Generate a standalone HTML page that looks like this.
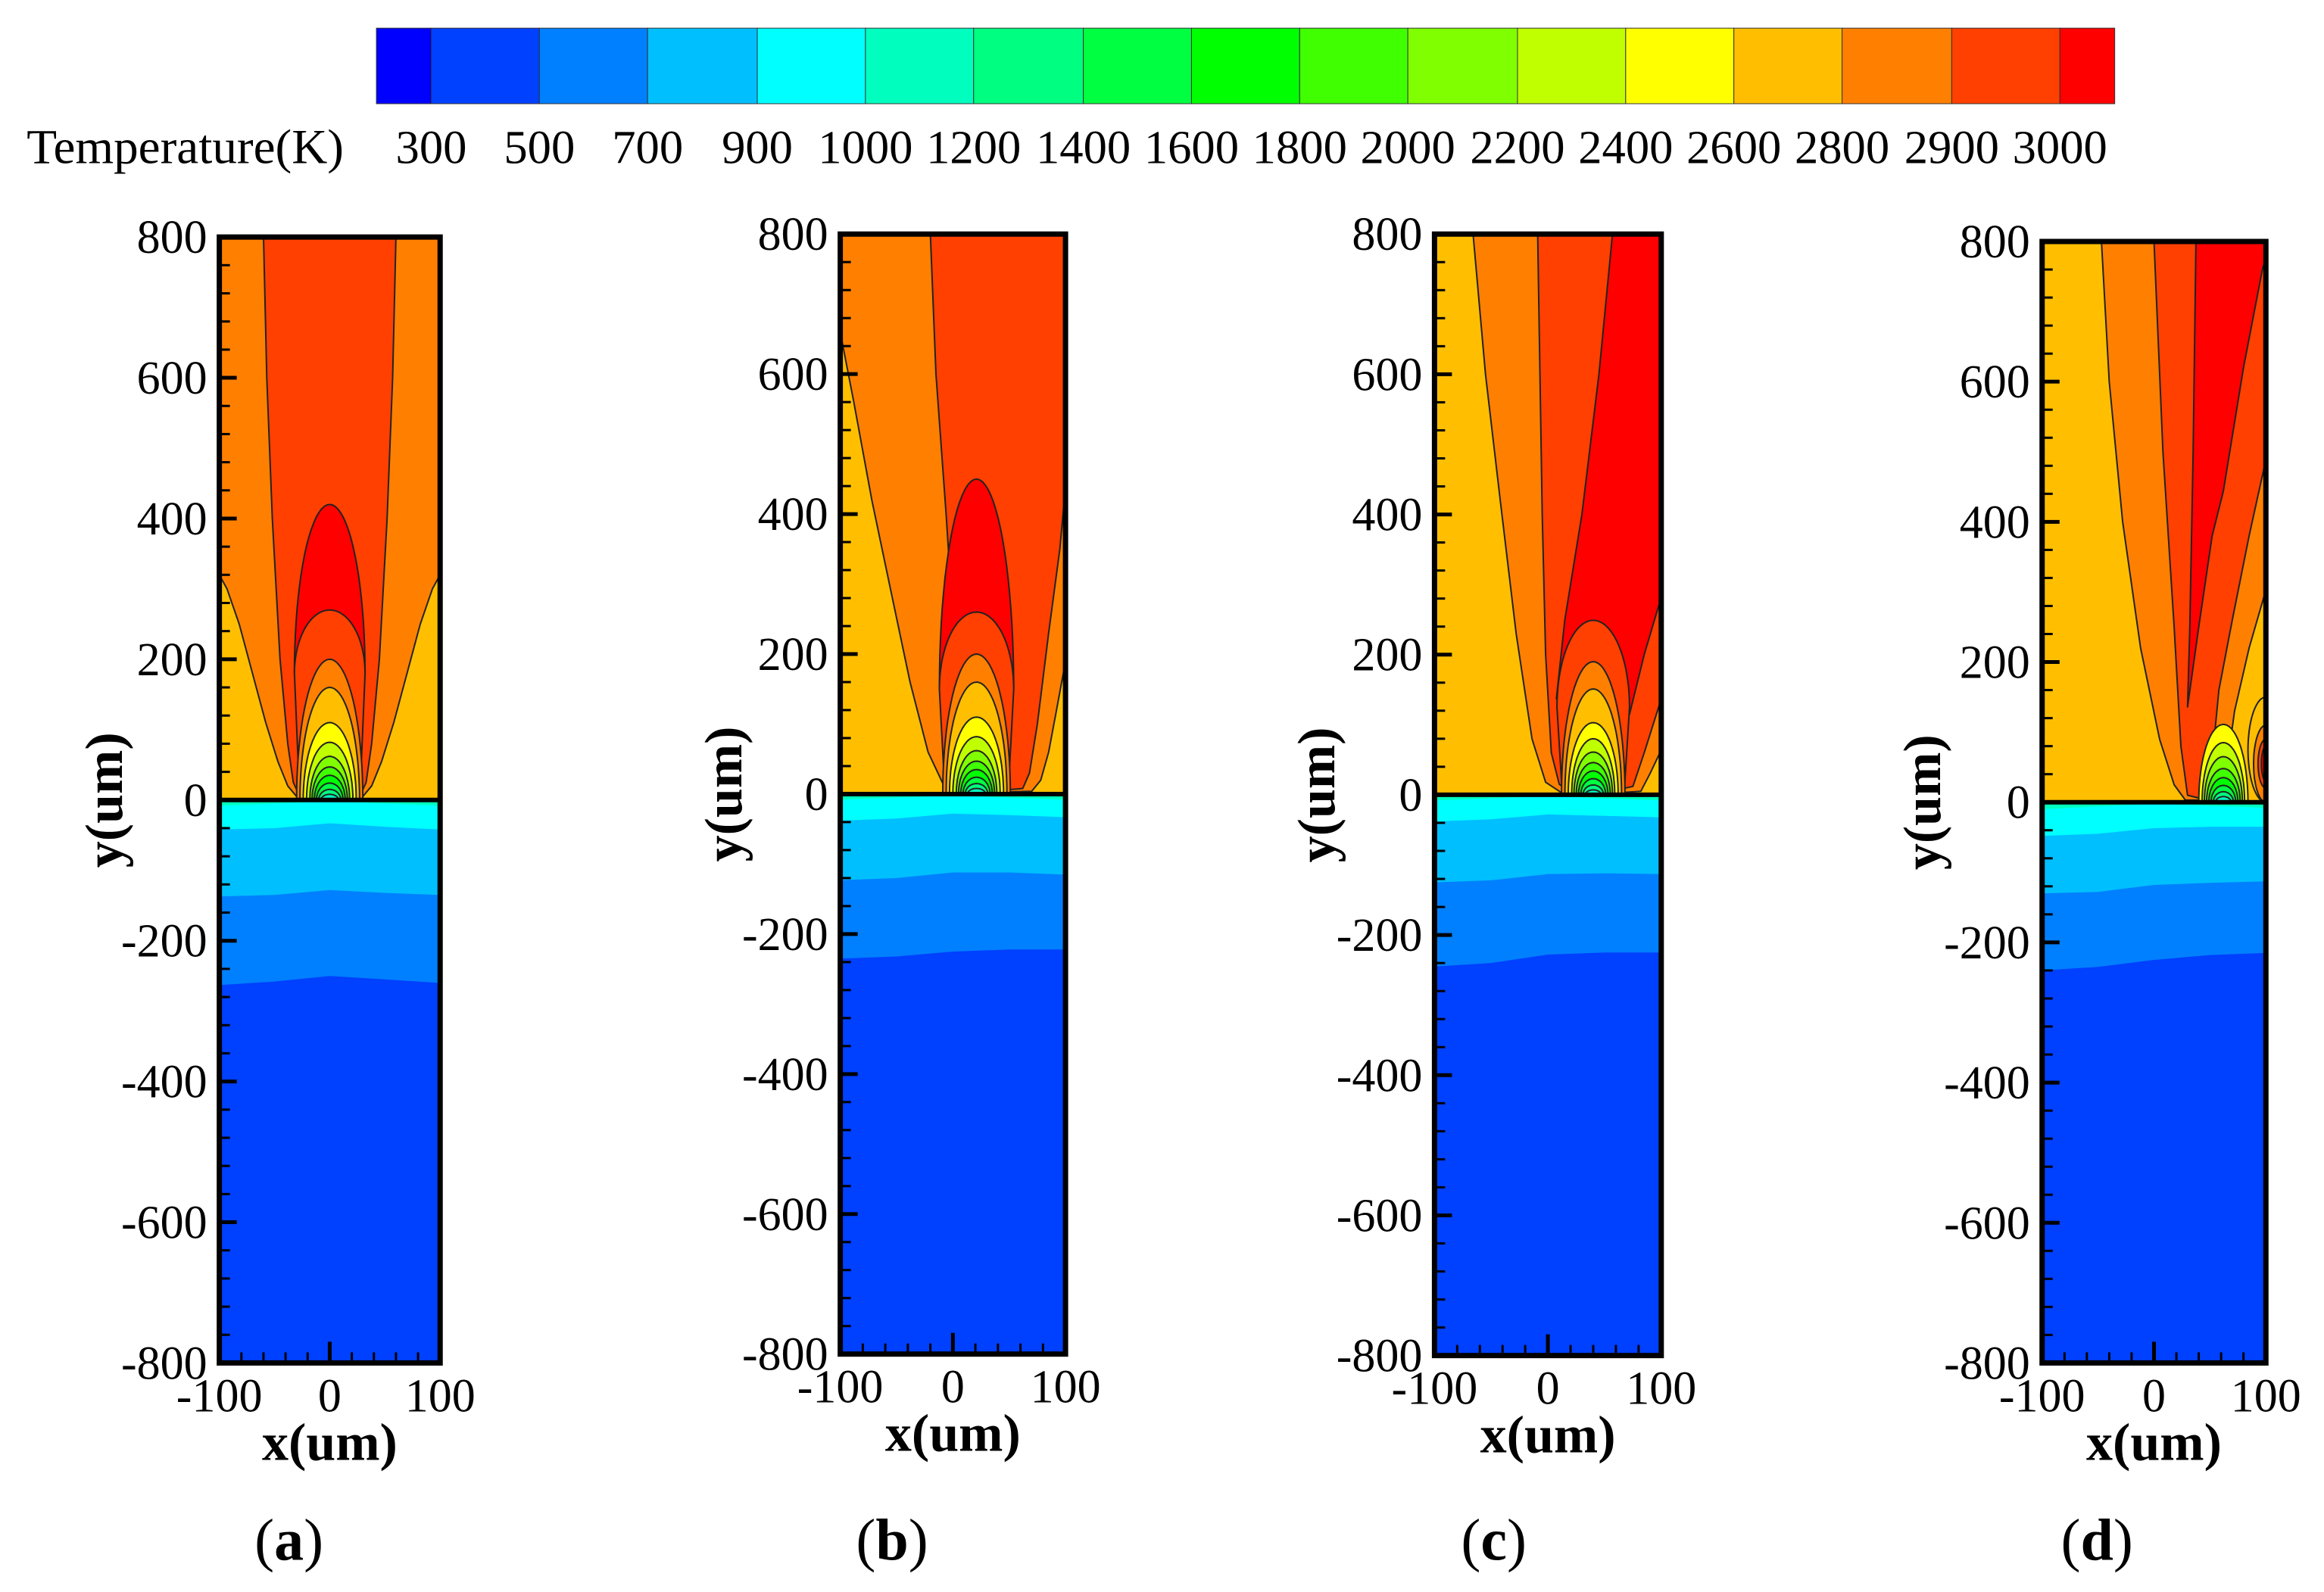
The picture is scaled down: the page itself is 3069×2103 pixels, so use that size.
<!DOCTYPE html>
<html><head><meta charset="utf-8"><title>Temperature contours</title>
<style>
html,body{margin:0;padding:0;background:#fff;}
svg{display:block;font-family:"Liberation Serif","DejaVu Serif",serif;}
</style></head>
<body>
<svg id="fig" width="3069" height="2103" viewBox="0 0 3069 2103" xmlns="http://www.w3.org/2000/svg"></svg>
<script>
const K = 1.957;
// colorbar data
const levelLabels = [300,500,700,900,1000,1200,1400,1600,1800,2000,2200,2400,2600,2800,2900,3000];
const bandColors = ['#0000ff','#0040ff','#0080ff','#00bfff','#00ffff','#00ffbf','#00ff80','#00ff40','#00ff00','#40ff00','#80ff00','#bfff00','#ffff00','#ffbf00','#ff8000','#ff4000','#ff0000'];
// ring contours (color, apex height um, half-width um)
const ringColors = ['#ff8000','#ffbf00','#ffff00','#bfff00','#80ff00','#40ff00','#00ff00','#00ff40','#00ff80','#00ffbf'];
const ringHeightsAB = [200,160,110,82,62,47,35,24,15,8];
const ringWidthsAB = [30,27,24,21,18,16,14,12,10,8];
const ringHeightsC = [190,151,103,80,61,46,34,23,14,7];
const ringWidthsC = [28,25,22,19,17,15,13,11,9,7];
const ringColorsD = ['#ffff00','#bfff00','#80ff00','#40ff00','#00ff00','#00ff40','#00ff80','#00ffbf'];
const ringHeightsD = [111,85,65,48,35,24,15,8];
const ringWidthsD = [22,19,17,15,13,11,9,7];
// substrate isotherm depths at x = -100,-50,0,50,100
const subX = [-100,-50,0,50,100];
const subA = [[-8,-5,-2,-5,-8],[-42,-40,-33,-38,-42],[-137,-135,-128,-132,-135],[-263,-258,-250,-255,-260]];
const subB = [[-8,-5,-2,-5,-8],[-38,-35,-28,-30,-33],[-123,-120,-112,-112,-115],[-235,-232,-225,-222,-222]];
const subC = [[-8,-5,-2,-5,-8],[-38,-35,-28,-30,-32],[-125,-122,-113,-112,-113],[-245,-240,-228,-225,-225]];
const subD = [[-10,-6,-2,-5,-8],[-48,-45,-37,-35,-35],[-130,-128,-118,-115,-113],[-240,-235,-225,-218,-215]];
const subColors = ['#00ffbf','#00ffff','#00bfff','#0080ff','#0040ff'];
// melt-pool region polygons (x um, y um)
const regionsA = [
 ['#ff8000',[[-100,800],[-100,320],[-93,300],[-82,250],[-70,180],[-58,110],[-47,55],[-38,20],[-30,5],[-24,2],[24,2],[30,5],[38,20],[47,55],[58,110],[70,180],[82,250],[93,300],[100,320],[100,800]]],
 ['#ff4000',[[-60,800],[-57,600],[-52,400],[-45,200],[-38,80],[-33,25],[-28,8],[-22,4],[22,4],[28,8],[33,25],[38,80],[45,200],[52,400],[57,600],[60,800]]]
];
const capsA = [['#ff0000',0,32,180,420,false],['#ff4000',0,32,180,270,true]];
const regionsB = [
 ['#ff8000',[[-100,800],[-100,660],[-88,560],[-72,420],[-55,290],[-38,160],[-22,60],[-8,12],[8,3],[40,3],[70,4],[78,20],[85,60],[92,120],[100,190],[100,800]]],
 ['#ff4000',[[-20,800],[-15,600],[-6,400],[2,200],[8,80],[13,20],[18,5],[32,4],[62,8],[68,30],[75,100],[85,230],[95,350],[100,440],[100,800]]]
];
const capsB = [['#ff0000',21,33,150,450,false],['#ff4000',21,33,150,260,true]];
const regionsC = [
 ['#ff8000',[[-66,800],[-55,600],[-42,420],[-28,230],[-14,80],[-2,18],[12,3],[60,3],[82,5],[90,30],[100,64],[100,800]]],
 ['#ff4000',[[-9,800],[-7,600],[-5,400],[-2,200],[3,60],[10,15],[20,5],[55,5],[75,12],[85,60],[100,137],[100,800]]],
 ['#ff0000',[[57,800],[45,600],[30,400],[15,250],[7.5,137],[72,115],[85,200],[100,282],[100,800]]]
];
const capsC = [['#ff4000',40,32,125,249,true]];
const regionsD = [
 ['#ff8000',[[-47,800],[-40,600],[-28,400],[-12,220],[5,90],[18,25],[28,3],[62,3],[66,60],[72,130],[85,220],[100,303],[100,800]]],
 ['#ff4000',[[0,800],[8,500],[18,250],[24,80],[30,10],[45,4],[52,60],[58,160],[70,260],[85,380],[100,489],[100,800]]],
 ['#ff0000',[[37.5,800],[35,500],[32,250],[30,136],[40,250],[52,380],[62,444],[80,620],[97,761],[100,780],[100,800]]]
];
const hotD = [['#ffbf00',100,16,0,150],['#ff8000',100,11,0,110],['#ff4000',100,7,20,90],['#ff0000',100,4,30,80]];
const capsD = [];

const svg = document.getElementById('fig');
const NS = 'http://www.w3.org/2000/svg';
function mk(tag, attrs, parent){
  const e = document.createElementNS(NS, tag);
  for (const k in attrs) e.setAttribute(k, attrs[k]);
  (parent||svg).appendChild(e);
  return e;
}
// colorbar
const cb = mk('g',{});


const cbEdges = [254,291,364,437,511,584,657,731,804,877,950,1024,1097,1170,1243,1317,1390,1427];
bandColors.forEach((c,i)=>{
  const r = mk('rect',{x:cbEdges[i]*K,y:19*K,width:(cbEdges[i+1]-cbEdges[i])*K,height:51*K,fill:c,stroke:'#333','stroke-width':1},cb);
  
  
});
const cbt = mk('text',{x:18*K,y:110*K,'font-size':33*K,textLength:214*K,lengthAdjust:'spacingAndGlyphs'},cb);
cbt.textContent='Temperature(K)';


levelLabels.forEach((v,i)=>{
  const t = mk('text',{x:cbEdges[i+1]*K,y:110*K,'font-size':32*K,'text-anchor':'middle'},cb);
  t.textContent=v;
  
  
});

const panels = [
 {id:'a',box:[148,297,160,920],sub:subA,reg:regionsA,caps:capsA,rc:0,rcol:ringColors,rh:ringHeightsAB,rw:ringWidthsAB,hot:[],yl:70,lx:195},
 {id:'b',box:[567,719,158,914],sub:subB,reg:regionsB,caps:capsB,rc:21,rcol:ringColors,rh:ringHeightsAB,rw:ringWidthsAB,hot:[],yl:488,lx:602},
 {id:'c',box:[968,1121,158,915],sub:subC,reg:regionsC,caps:capsC,rc:40,rcol:ringColors,rh:ringHeightsC,rw:ringWidthsC,hot:[],yl:888,lx:1008},
 {id:'d',box:[1378,1529,163,920],sub:subD,reg:regionsD,caps:capsD,rc:62,rcol:ringColorsD,rh:ringHeightsD,rw:ringWidthsD,hot:hotD,yl:1297,lx:1415}
];
panels.forEach(p=>{
  const X0=p.box[0]*K, X1=p.box[1]*K, YT=p.box[2]*K, YB=p.box[3]*K;
  const sx = x => X0+(x+100)/200*(X1-X0);
  const sy = y => YT+(800-y)/1600*(YB-YT);
  const g = mk('g',{});
  
  
  const cid='clip'+p.id;
  const cp = mk('clipPath',{id:cid},g);
  mk('rect',{x:X0,y:YT,width:X1-X0,height:YB-YT},cp);
  const pl = mk('g',{'clip-path':'url(#'+cid+')'},g);
  
  
  const poly = (pts,fill,name,stroke)=>{
    const e = mk('polygon',{points:pts.map(q=>sx(q[0]).toFixed(1)+','+sy(q[1]).toFixed(1)).join(' '),fill:fill,stroke:stroke?'#222':'none','stroke-width':2,'stroke-linejoin':'round'},pl);
    
    
  };
  poly([[-100,0],[100,0],[100,-800],[-100,-800]],subColors[0],'substrate-band',false);
  p.sub.forEach((arr,i)=>{
    const below=[]; for(let j=0;j<subX.length;j++) below.push([subX[j],arr[j]]);
    below.push([100,-800],[-100,-800]);
    poly(below,subColors[i+1],'substrate-band',false);
  });
  poly([[-100,0],[-100,800],[100,800],[100,0]],'#ffbf00','hot-zone-background',false);
  p.reg.forEach(r=>poly(r[1],r[0],'isotherm-region',true));
  const capPts=(c,w,base,apex,ext)=>{
    const pts=[];
    for(let i=0;i<=40;i++){const t=Math.PI*i/40; pts.push([c-w*Math.cos(t), base+(apex-base)*Math.sin(t)]);}
    if(ext && base>0){pts.push([c+w*0.85,0],[c-w*0.85,0]);}
    return pts;
  };
  p.caps.forEach(cp2=>poly(capPts(cp2[1],cp2[2],cp2[3],cp2[4],cp2[5]),cp2[0],'isotherm-cap',true));
  p.hot.forEach(h=>{
    const pts=[]; const cy=(h[3]+h[4])/2, ry=(h[4]-h[3])/2;
    for(let i=0;i<=40;i++){const t=Math.PI/2+Math.PI*i/40; pts.push([h[1]+h[2]*Math.cos(t), cy+ry*Math.sin(t)]);}
    poly(pts,h[0],'edge-hotspot',true);
  });
  p.rcol.forEach((c,i)=>poly(capPts(p.rc,p.rw[i],0,p.rh[i],false),c,'melt-pool-ring',true));
  mk('line',{x1:X0,x2:X1,y1:sy(0),y2:sy(0),stroke:'#000','stroke-width':6},g);
  for(let v=-800;v<=800;v+=40){
    const maj=v%200===0;
    mk('line',{x1:X0,x2:X0+(maj?23:14),y1:sy(v),y2:sy(v),stroke:'#000','stroke-width':maj?5:3},g);
  }
  for(let v=-100;v<=100;v+=20){
    const maj=v===0;
    mk('line',{x1:sx(v),x2:sx(v),y1:YB,y2:YB-(maj?28:14),stroke:'#000','stroke-width':maj?5:3},g);
  }
  const fr=mk('rect',{x:X0,y:YT,width:X1-X0,height:YB-YT,fill:'none',stroke:'#000','stroke-width':7},g);
  
  
  for(let v=-800;v<=800;v+=200){
    const t=mk('text',{x:X0-16,y:sy(v)+21,'font-size':62,'text-anchor':'end'},g);
    t.textContent=v;
    
    
  }
  [-100,0,100].forEach(v=>{
    const t=mk('text',{x:sx(v),y:YB+64,'font-size':62,'text-anchor':'middle'},g);
    t.textContent=v;
    
    
  });
  const xt=mk('text',{x:(X0+X1)/2,y:YB+128,'font-size':70,'font-weight':'bold','text-anchor':'middle'},g);
  xt.textContent='x(um)';
  
  
  const yc=sy(0);
  const yt=mk('text',{x:0,y:0,'font-size':70,'font-weight':'bold','text-anchor':'middle',transform:'translate('+(p.yl*K+24)+','+yc+') rotate(-90)'},g);
  yt.textContent='y(um)';
  
  
  const lt=mk('text',{x:p.lx*K,y:1053*K,'font-size':78,'text-anchor':'middle'},g);
  lt.innerHTML='(<tspan font-weight="bold">'+p.id+'</tspan>)';
  
  
});
</script>
</body></html>
